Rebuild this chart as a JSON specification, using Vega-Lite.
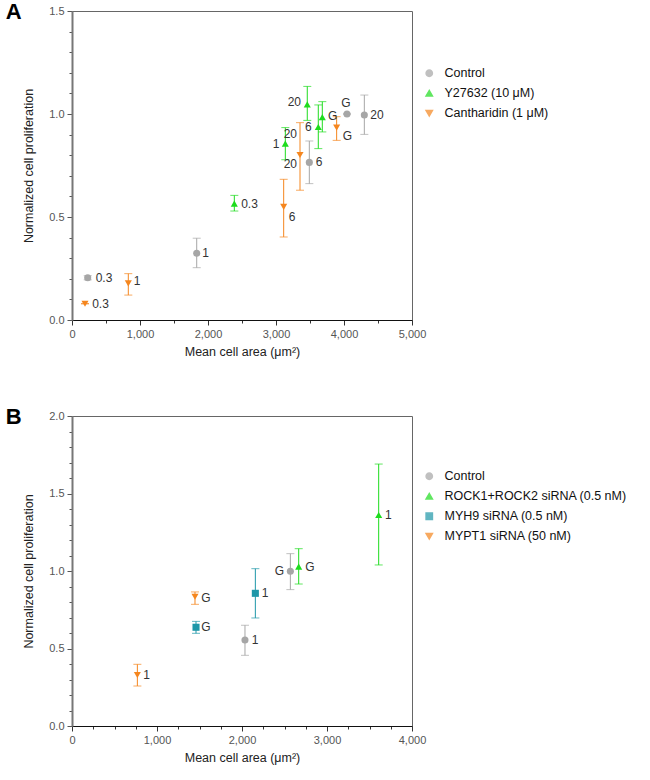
{
  "$schema": "https://vega.github.io/schema/vega-lite/v6.json",
  "background": "white",
  "padding": {"top": 0, "left": 5, "right": 5, "bottom": 5},
  "spacing": 47,
  "resolve": {"scale": {"color": "independent", "shape": "independent", "x": "independent", "y": "independent"}, "legend": {"color": "independent", "shape": "independent"}},
  "config": {
    "font": "Liberation Sans",
    "view": {"stroke": "#666666", "strokeWidth": 1},
    "axis": {
      "labelFont": "Liberation Sans",
      "labelFontSize": 11,
      "labelColor": "#555555",
      "titleFont": "Liberation Sans",
      "titleFontSize": 12.5,
      "titleFontWeight": "normal",
      "titleColor": "#222222",
      "grid": false,
      "labelOverlap": false,
      "labelFlush": false,
      "labelPadding": 3,
      "tickColor": "#555555"
    },
    "legend": {
      "labelFont": "Liberation Sans",
      "labelFontSize": 12.5,
      "labelColor": "#111111",
      "labelLimit": 300,
      "symbolSize": 40,
      "rowPadding": 7,
      "labelOffset": 9,
      "padding": 0,
      "title": null
    },
    "title": {"font": "Liberation Sans", "fontSize": 22, "fontWeight": "bold", "color": "#000000"}
  },
  "datasets": {
    "pointsA": [
      {"series": "Control", "conc": "0.3", "area": 231, "prolif": 0.205, "lo": 0.195, "hi": 0.215},
      {"series": "Control", "conc": "1", "area": 1834, "prolif": 0.324, "lo": 0.254, "hi": 0.397},
      {"series": "Control", "conc": "6", "area": 3490, "prolif": 0.765, "lo": 0.662, "hi": 0.869},
      {"series": "Control", "conc": "20", "area": 4299, "prolif": 0.995, "lo": 0.901, "hi": 1.092},
      {"series": "Control", "conc": "G", "area": 4044, "prolif": 1.0, "lo": 1.0, "hi": 1.0},
      {"series": "Y27632 (10 μM)", "conc": "0.3", "area": 2387, "prolif": 0.565, "lo": 0.529, "hi": 0.605},
      {"series": "Y27632 (10 μM)", "conc": "1", "area": 3137, "prolif": 0.856, "lo": 0.778, "hi": 0.934},
      {"series": "Y27632 (10 μM)", "conc": "6", "area": 3622, "prolif": 0.937, "lo": 0.832, "hi": 1.044},
      {"series": "Y27632 (10 μM)", "conc": "20", "area": 3460, "prolif": 1.047, "lo": 0.969, "hi": 1.134},
      {"series": "Y27632 (10 μM)", "conc": "G", "area": 3681, "prolif": 0.985, "lo": 0.913, "hi": 1.06},
      {"series": "Cantharidin (1 μM)", "conc": "0.3", "area": 191, "prolif": 0.079, "lo": 0.079, "hi": 0.079},
      {"series": "Cantharidin (1 μM)", "conc": "1", "area": 828, "prolif": 0.178, "lo": 0.121, "hi": 0.225},
      {"series": "Cantharidin (1 μM)", "conc": "6", "area": 3113, "prolif": 0.549, "lo": 0.403, "hi": 0.683},
      {"series": "Cantharidin (1 μM)", "conc": "20", "area": 3353, "prolif": 0.801, "lo": 0.63, "hi": 0.958},
      {"series": "Cantharidin (1 μM)", "conc": "G", "area": 3892, "prolif": 0.934, "lo": 0.872, "hi": 0.987}
    ],
    "labelsA": [
      {"text": "0.3", "area": 471, "prolif": 0.204},
      {"text": "0.3", "area": 419, "prolif": 0.078},
      {"text": "1", "area": 959, "prolif": 0.19},
      {"text": "1", "area": 1966, "prolif": 0.324},
      {"text": "0.3", "area": 2610, "prolif": 0.563},
      {"text": "6", "area": 3235, "prolif": 0.5},
      {"text": "1", "area": 3000, "prolif": 0.853},
      {"text": "20", "area": 3211, "prolif": 0.904},
      {"text": "20", "area": 3211, "prolif": 0.756},
      {"text": "20", "area": 3270, "prolif": 1.06},
      {"text": "6", "area": 3475, "prolif": 0.937},
      {"text": "6", "area": 3632, "prolif": 0.766},
      {"text": "G", "area": 3833, "prolif": 0.989},
      {"text": "G", "area": 4029, "prolif": 1.055},
      {"text": "G", "area": 4049, "prolif": 0.892},
      {"text": "20", "area": 4485, "prolif": 0.995}
    ],
    "pointsB": [
      {"series": "Control", "conc": "1", "area": 2035, "prolif": 0.555, "lo": 0.456, "hi": 0.65},
      {"series": "Control", "conc": "G", "area": 2569, "prolif": 0.998, "lo": 0.88, "hi": 1.112},
      {"series": "ROCK1+ROCK2 siRNA (0.5 nM)", "conc": "1", "area": 3608, "prolif": 1.361, "lo": 1.039, "hi": 1.69},
      {"series": "ROCK1+ROCK2 siRNA (0.5 nM)", "conc": "G", "area": 2667, "prolif": 1.028, "lo": 0.916, "hi": 1.144},
      {"series": "MYH9 siRNA (0.5 nM)", "conc": "1", "area": 2157, "prolif": 0.856, "lo": 0.697, "hi": 1.015},
      {"series": "MYH9 siRNA (0.5 nM)", "conc": "G", "area": 1459, "prolif": 0.637, "lo": 0.598, "hi": 0.675},
      {"series": "MYPT1 siRNA (50 nM)", "conc": "1", "area": 769, "prolif": 0.329, "lo": 0.258, "hi": 0.398},
      {"series": "MYPT1 siRNA (50 nM)", "conc": "G", "area": 1447, "prolif": 0.834, "lo": 0.785, "hi": 0.865}
    ],
    "labelsB": [
      {"text": "1", "area": 879, "prolif": 0.329},
      {"text": "G", "area": 1576, "prolif": 0.828},
      {"text": "G", "area": 1576, "prolif": 0.637},
      {"text": "1", "area": 2153, "prolif": 0.555},
      {"text": "1", "area": 2271, "prolif": 0.86},
      {"text": "G", "area": 2439, "prolif": 0.998},
      {"text": "G", "area": 2800, "prolif": 1.028},
      {"text": "1", "area": 3721, "prolif": 1.361}
    ]
  },
  "vconcat": [
    {
      "width": 340,
      "height": 309,
      "title": {"text": "A", "anchor": "start", "frame": "bounds", "offset": -19, "dx": -17},
      "encoding": {
        "x": {"field": "area", "type": "quantitative",
          "scale": {"domain": [0, 5000], "nice": false, "zero": true},
          "axis": {
            "title": "Mean cell area (μm²)",
            "values": [0, 500, 1000, 1500, 2000, 2500, 3000, 3500, 4000, 4500, 5000],
            "labelExpr": "datum.value % 1000 == 0 ? format(datum.value, ',') : ''",
            "tickSize": {"condition": {"test": "datum.value % 1000 != 0", "value": 3}, "value": 5},
            "labelOverlap": false,
            "domainColor": "#111111", "domainWidth": 1, "tickColor": "#333333", "titlePadding": 6
          }},
        "y": {"field": "prolif", "type": "quantitative",
          "scale": {"domain": [0, 1.5], "nice": false},
          "axis": {
            "title": "Normalized cell proliferation",
            "values": [0, 0.1, 0.2, 0.3, 0.4, 0.5, 0.6, 0.7, 0.8, 0.9, 1.0, 1.1, 1.2, 1.3, 1.4, 1.5],
            "labelExpr": "round(datum.value * 10) % 5 == 0 ? format(datum.value, '.1f') : ''",
            "tickSize": {"condition": {"test": "round(datum.value * 10) % 5 != 0", "value": 3}, "value": 5},
            "labelOverlap": false,
            "domainColor": "#777777", "domainWidth": 2, "titlePadding": 13
          }},
        "color": {"field": "series", "type": "nominal",
          "scale": {"domain": ["Control", "Y27632 (10 μM)", "Cantharidin (1 μM)"], "range": ["#a6a6a6", "#1edc1e", "#f5861e"]},
          "legend": {"orient": "none", "legendX": 351, "legendY": 56}}
      },
      "layer": [
        {
          "data": {"name": "pointsA"},
          "mark": {"type": "errorbar", "ticks": {"size": 8}, "thickness": 1},
          "encoding": {
            "y": {"field": "lo", "type": "quantitative"},
            "y2": {"field": "hi"}
          }
        },
        {
          "data": {"name": "pointsA"},
          "mark": {"type": "point", "filled": true, "opacity": 1, "size": 50},
          "encoding": {
            "shape": {"field": "series", "type": "nominal",
              "scale": {"domain": ["Control", "Y27632 (10 μM)", "Cantharidin (1 μM)"], "range": ["circle", "triangle-up", "triangle-down"]},
              "legend": {"orient": "none", "legendX": 351, "legendY": 56}}
          }
        },
        {
          "data": {"name": "labelsA"},
          "mark": {"type": "text", "fontSize": 12, "font": "Liberation Sans"},
          "encoding": {
            "text": {"field": "text"},
            "color": {"value": "#333333"}
          }
        }
      ]
    },
    {
      "width": 340,
      "height": 310,
      "title": {"text": "B", "anchor": "start", "frame": "bounds", "offset": -19, "dx": -17},
      "encoding": {
        "x": {"field": "area", "type": "quantitative",
          "scale": {"domain": [0, 4000], "nice": false, "zero": true},
          "axis": {
            "title": "Mean cell area (μm²)",
            "values": [0, 250, 500, 750, 1000, 1250, 1500, 1750, 2000, 2250, 2500, 2750, 3000, 3250, 3500, 3750, 4000],
            "labelExpr": "datum.value % 1000 == 0 ? format(datum.value, ',') : ''",
            "tickSize": {"condition": {"test": "datum.value % 1000 != 0", "value": 3}, "value": 5},
            "labelOverlap": false,
            "domainColor": "#111111", "domainWidth": 1, "tickColor": "#333333", "titlePadding": 6
          }},
        "y": {"field": "prolif", "type": "quantitative",
          "scale": {"domain": [0, 2], "nice": false},
          "axis": {
            "title": "Normalized cell proliferation",
            "values": [0, 0.1, 0.2, 0.3, 0.4, 0.5, 0.6, 0.7, 0.8, 0.9, 1.0, 1.1, 1.2, 1.3, 1.4, 1.5, 1.6, 1.7, 1.8, 1.9, 2.0],
            "labelExpr": "round(datum.value * 10) % 5 == 0 ? format(datum.value, '.1f') : ''",
            "tickSize": {"condition": {"test": "round(datum.value * 10) % 5 != 0", "value": 3}, "value": 5},
            "labelOverlap": false,
            "domainColor": "#777777", "domainWidth": 2, "titlePadding": 13
          }},
        "color": {"field": "series", "type": "nominal",
          "scale": {"domain": ["Control", "ROCK1+ROCK2 siRNA (0.5 nM)", "MYH9 siRNA (0.5 nM)", "MYPT1 siRNA (50 nM)"], "range": ["#a6a6a6", "#1edc1e", "#1e97a8", "#f5861e"]},
          "legend": {"orient": "none", "legendX": 351, "legendY": 54}}
      },
      "layer": [
        {
          "data": {"name": "pointsB"},
          "mark": {"type": "errorbar", "ticks": {"size": 8}, "thickness": 1},
          "encoding": {
            "y": {"field": "lo", "type": "quantitative"},
            "y2": {"field": "hi"}
          }
        },
        {
          "data": {"name": "pointsB"},
          "mark": {"type": "point", "filled": true, "opacity": 1, "size": 50},
          "encoding": {
            "shape": {"field": "series", "type": "nominal",
              "scale": {"domain": ["Control", "ROCK1+ROCK2 siRNA (0.5 nM)", "MYH9 siRNA (0.5 nM)", "MYPT1 siRNA (50 nM)"], "range": ["circle", "triangle-up", "square", "triangle-down"]},
              "legend": {"orient": "none", "legendX": 351, "legendY": 54}}
          }
        },
        {
          "data": {"name": "labelsB"},
          "mark": {"type": "text", "fontSize": 12, "font": "Liberation Sans"},
          "encoding": {
            "text": {"field": "text"},
            "color": {"value": "#333333"}
          }
        }
      ]
    }
  ]
}
